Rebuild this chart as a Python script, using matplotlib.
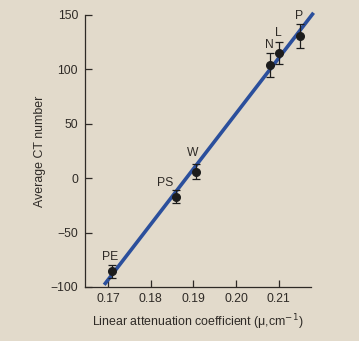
import matplotlib.pyplot as plt
import numpy as np

plt.rcParams['font.family'] = ['Liberation Sans', 'DejaVu Sans']

# measured materials
labels = ["PE", "PS", "W", "N", "L", "P"]
mu = [0.1709, 0.1859, 0.1907, 0.2080, 0.2100, 0.2150]
ct = [-85.5, -17.0, 6.0, 104.0, 115.0, 131.0]
ct_err = [6.0, 6.0, 7.0, 11.0, 10.0, 11.0]

# fitted line end points
fit_mu = [0.1691, 0.2182]
fit_ct = [-98.0, 152.0]

# label offsets in points (dx, dy)
label_offsets = {
    "PE": (-1.4, 6), "PS": (-7.7, 5.5), "W": (-2.5, 9),
    "N": (-0.8, 10), "L": (0, 10), "P": (-0.7, 10),
}


def main():
    bg = "#e2dacb"
    ink = "#2e2a26"
    fig = plt.figure(figsize=(3.59, 3.41), dpi=100, facecolor=bg)
    ax = fig.add_axes([0.2368, 0.1584, 0.6295, 0.7977], facecolor=bg)

    ax.plot(fit_mu, fit_ct, color="#2b4f9c", lw=2.6, solid_capstyle="butt",
            clip_on=False, zorder=2)
    ax.errorbar(mu, ct, yerr=ct_err, fmt="o", color="#1c1c1c", ms=5.5,
                elinewidth=0.9, capsize=3, capthick=0.9, zorder=3, clip_on=False)

    for lab, x, y in zip(labels, mu, ct):
        dx, dy = label_offsets[lab]
        ax.annotate(lab, (x, y), xytext=(dx, dy), textcoords="offset points",
                    ha="center", va="bottom", fontsize=8.7, color=ink)

    ax.set_xlim(0.1646, 0.2176)
    ax.set_ylim(-100, 150)
    ax.set_xticks([0.17, 0.18, 0.19, 0.20, 0.21])
    ax.set_xticklabels(["0.17", "0.18", "0.19", "0.20", "0.21"])
    ax.set_yticks([-100, -50, 0, 50, 100, 150])
    ax.set_yticklabels(["\u2212100", "\u221250", "0", "50", "100", "150"])

    for side in ["top", "right"]:
        ax.spines[side].set_visible(False)
    for side in ["left", "bottom"]:
        ax.spines[side].set_color(ink)
        ax.spines[side].set_linewidth(0.9)
    ax.tick_params(direction="in", length=5, width=0.9, color=ink,
                   labelsize=8.7, labelcolor=ink, pad=4)
    ax.tick_params(axis="y", pad=5)

    ax.set_xlabel("Linear attenuation coefficient (\u03bc,cm$^{-1}$)",
                  fontsize=8.9, color=ink, labelpad=6)
    ax.set_ylabel("Average CT number", fontsize=8.9, color=ink, labelpad=3)

    fig.savefig("out.png", dpi=100, facecolor=bg)


if __name__ == "__main__":
    main()
